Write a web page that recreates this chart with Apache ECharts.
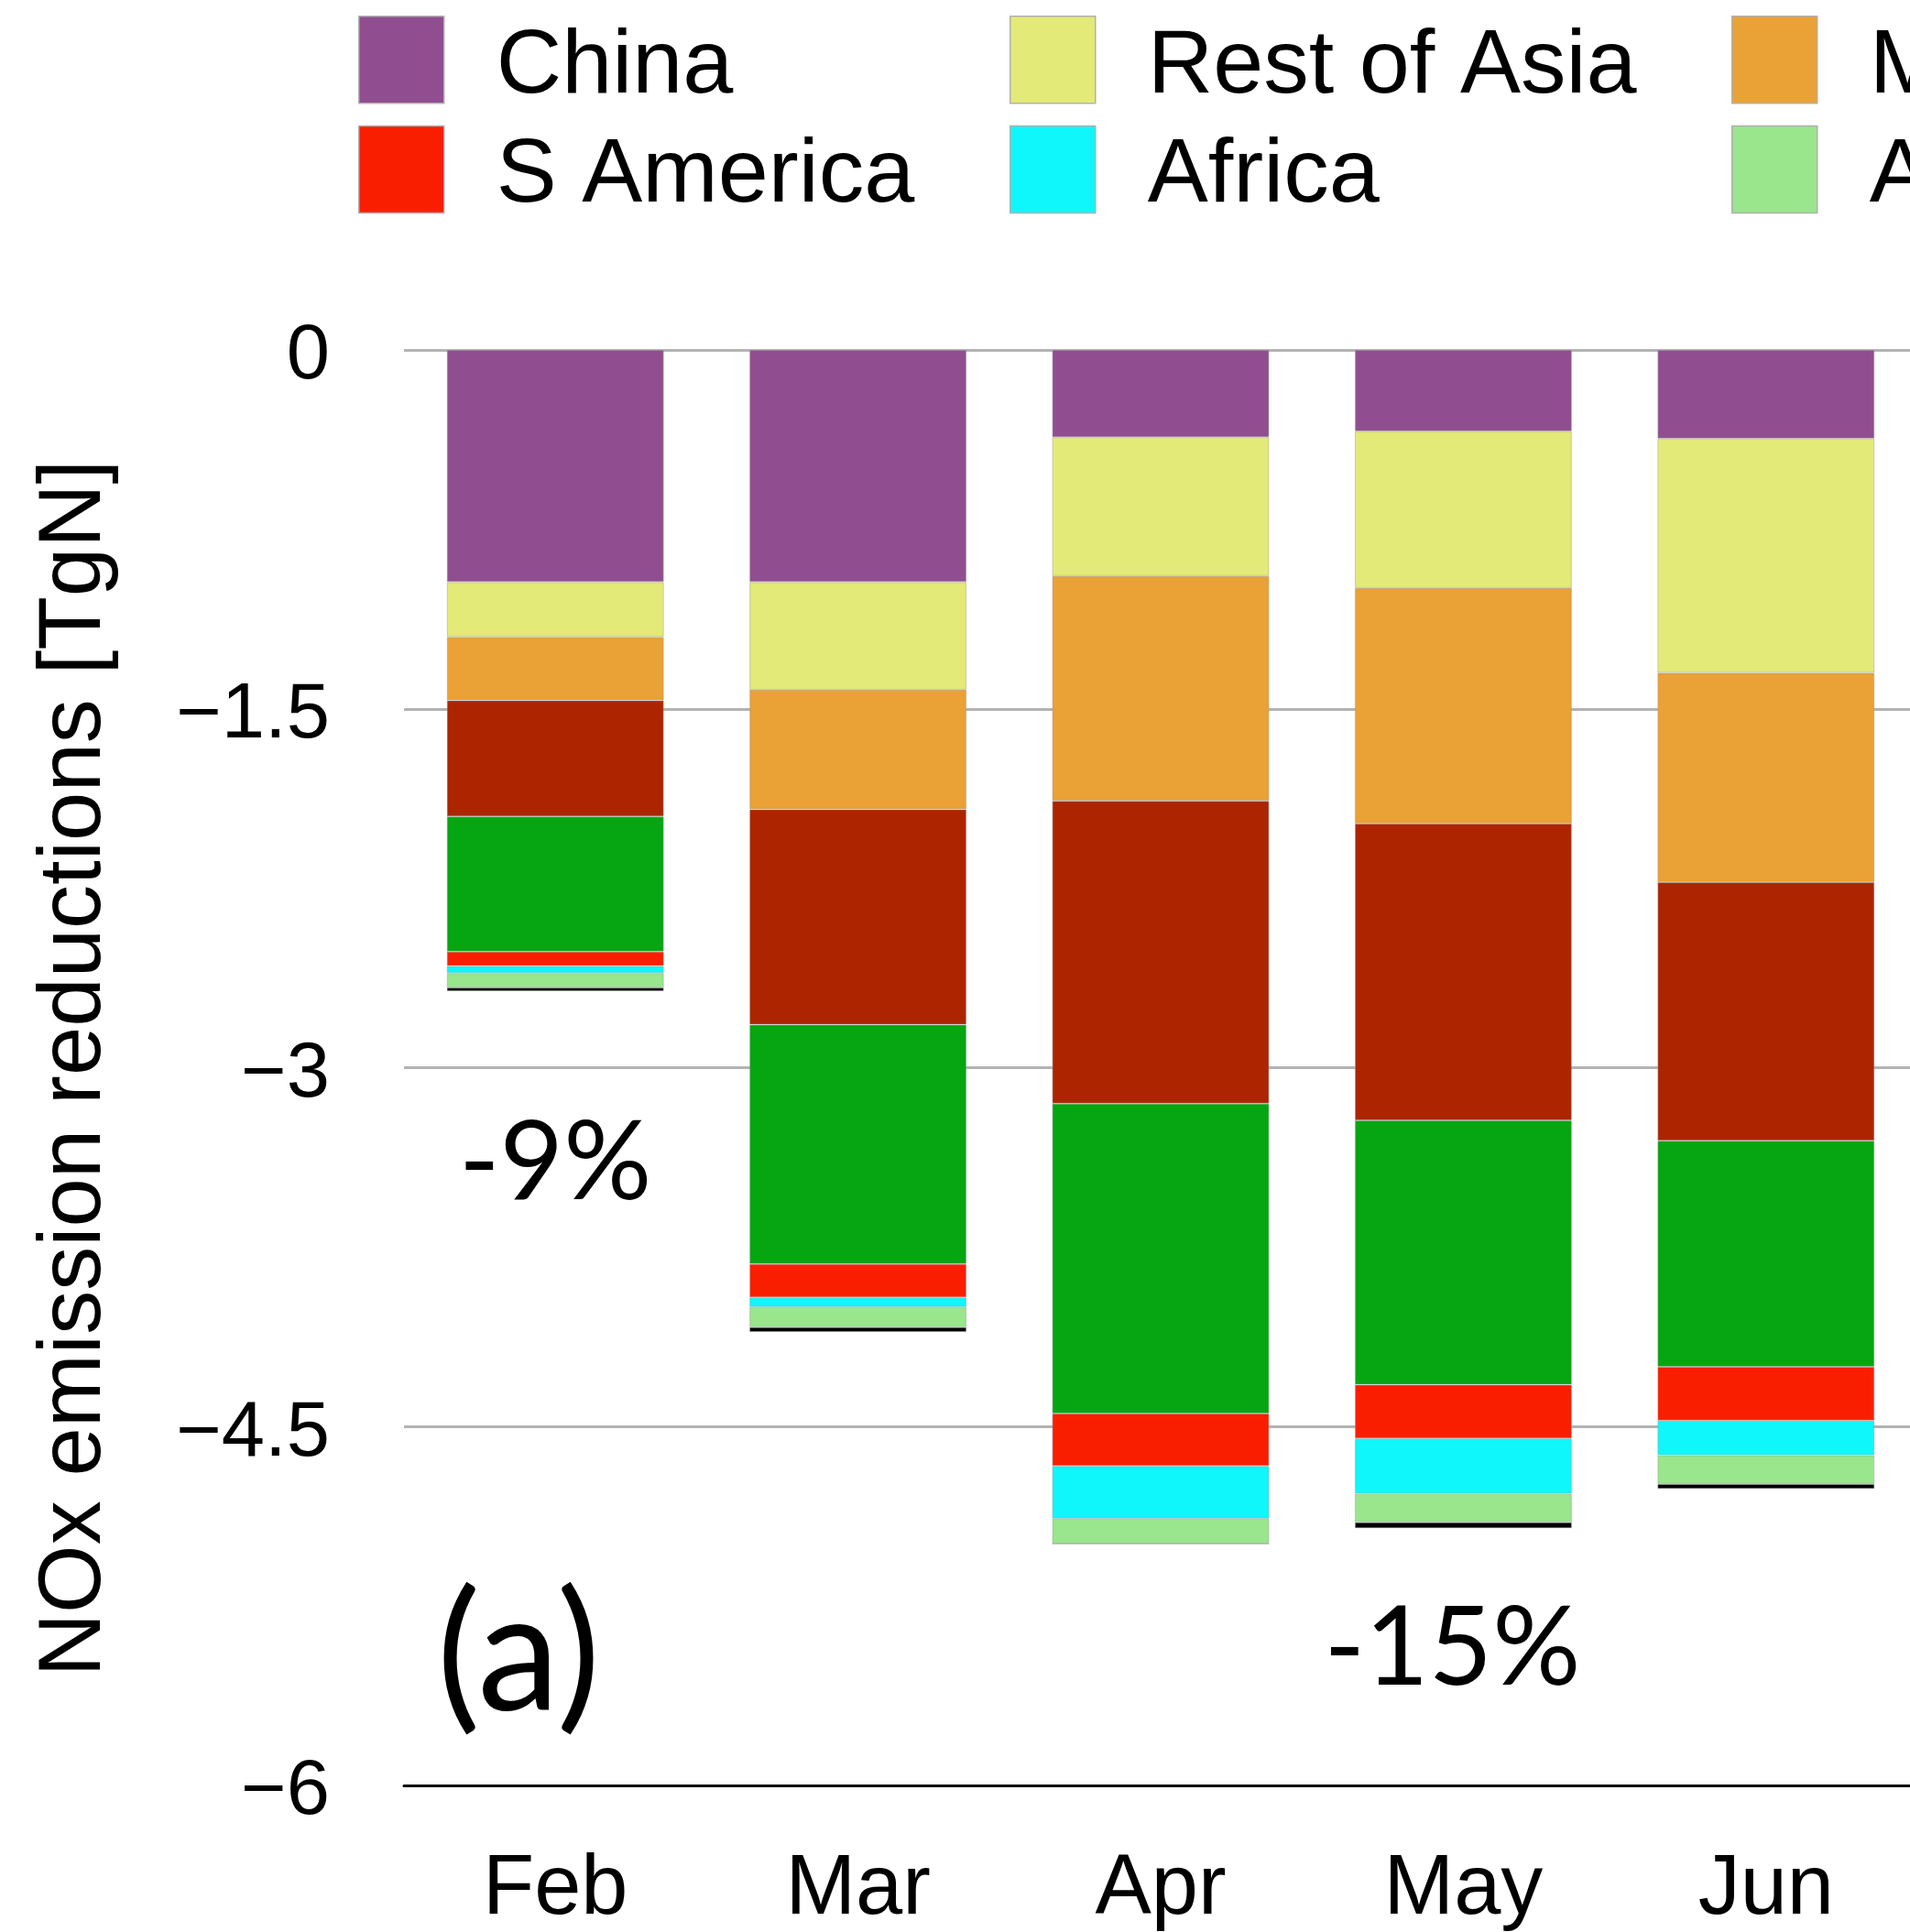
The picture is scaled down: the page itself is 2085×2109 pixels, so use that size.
<!DOCTYPE html>
<html>
<head>
<meta charset="utf-8">
<script src="https://cdn.jsdelivr.net/npm/echarts@6/dist/echarts.min.js"></script>
<style>
  html, body { margin: 0; padding: 0; background: #ffffff; }
  #chart { width: 2085px; height: 2109px; }
</style>
</head>
<body>
<div id="chart"></div>
<script>
// Monthly NOx emission reductions by region [TgN]
const months = ['Feb', 'Mar', 'Apr', 'May', 'Jun'];
const china      = [-0.97, -0.97, -0.365, -0.34, -0.37];
const restOfAsia = [-0.23, -0.45, -0.58, -0.655, -0.98];
const middleEast = [-0.265, -0.50, -0.94, -0.985, -0.875];
const europe     = [-0.485, -0.90, -1.265, -1.24, -1.08];
const nAmerica   = [-0.565, -1.00, -1.295, -1.105, -0.945];
const sAmerica   = [-0.06, -0.14, -0.22, -0.225, -0.225];
const africa     = [-0.03, -0.04, -0.22, -0.23, -0.145];
const australia  = [-0.06, -0.085, -0.105, -0.12, -0.12];
const other      = [-0.015, -0.02, 0, -0.025, -0.02];

const yTicks = [0, -1.5, -3, -4.5, -6];

// Relative change annotations
const notes = [
  { text: '-9%', month: 'Feb', value: -3.4 },
  { text: '-15%', month: 'May', value: -5.43 }
];
// small horizontal nudges for the annotation text, in pixels
const noteNudge = { '-9%': 0, '-15%': -12 };

const regions = [
  { name: 'China',       data: china,      color: '#904e91' },
  { name: 'Rest of Asia',data: restOfAsia, color: '#e3ea78' },
  { name: 'Middle East', data: middleEast, color: '#eaa135' },
  { name: 'Europe',      data: europe,     color: '#ad2400' },
  { name: 'N America',   data: nAmerica,   color: '#05a611' },
  { name: 'S America',   data: sAmerica,   color: '#fa1e00' },
  { name: 'Africa',      data: africa,     color: '#0ff7fa' },
  { name: 'Australia',   data: australia,  color: '#99e68d' },
  { name: 'Other',       data: other,      color: '#000000' }
];

const sans = 'Liberation Sans, Arial, Helvetica, sans-serif';

function legendColumn(names, left) {
  return {
    orient: 'vertical',
    left: left,
    top: 17,
    padding: 0,
    itemWidth: 93,
    itemHeight: 95,
    itemGap: 14,
    icon: 'rect',
    selectedMode: false,
    data: names,
    itemStyle: { borderColor: '#b0b0b0', borderWidth: 1.5 },
    formatter: name => '{t|' + name + '}',
    textStyle: {
      color: '#000',
      rich: {
        t: { fontFamily: sans, fontSize: 99, color: '#000', padding: [16, 0, 0, 52] }
      }
    }
  };
}

const chart = echarts.init(document.getElementById('chart'), null, { renderer: 'canvas' });

chart.setOption({
  animation: false,
  backgroundColor: '#ffffff',
  legend: [
    legendColumn(['China', 'S America'], 391),
    legendColumn(['Rest of Asia', 'Africa'], 1102),
    legendColumn(['Middle East', 'Australia'], 1890)
  ],
  grid: {
    left: 441, width: 1652, top: 382, bottom: 160,
    containLabel: false,
    outerBoundsMode: 'none'
  },
  xAxis: {
    type: 'category',
    data: months,
    position: 'bottom',
    axisLine: { show: true, onZero: false, lineStyle: { color: '#000', width: 3 } },
    axisTick: { show: false },
    axisLabel: { fontFamily: sans, fontSize: 92, color: '#000', margin: 69 },
    splitLine: { show: false }
  },
  yAxis: {
    type: 'value',
    min: yTicks[yTicks.length - 1],
    max: yTicks[0],
    interval: 1.5,
    axisLine: { show: false },
    axisTick: { show: false },
    axisLabel: {
      color: '#000',
      margin: 81,
      formatter: v => '{v|' + String(v).replace('-', '\u2212') + '}',
      rich: {
        v: { fontFamily: sans, fontSize: 85, color: '#000', padding: [16, 0, 0, 0] }
      }
    },
    splitLine: { show: true, lineStyle: { color: '#b3b3b3', width: 3 } }
  },
  series: regions.map(r => ({
    name: r.name,
    type: 'bar',
    stack: 'total',
    barWidth: '71.7%',
    data: r.data,
    itemStyle: { color: r.color, borderColor: 'rgba(150,150,150,0.45)', borderWidth: 1 },
    emphasis: { disabled: true }
  }))
});

// Axis title, panel label and percentage annotations
const graphics = [
  {
    type: 'text',
    x: 83, y: 1166,
    rotation: Math.PI / 2,
    style: {
      text: 'NOx emission reductions [TgN]',
      font: '96px ' + sans,
      fill: '#000',
      align: 'center',
      verticalAlign: 'middle'
    }
  },
  {
    type: 'text',
    x: 566, y: 1809,
    style: {
      text: '(a)',
      font: '180px Lato, sans-serif',
      fill: '#000',
      align: 'center',
      verticalAlign: 'middle'
    }
  }
];
notes.forEach(n => {
  const p = chart.convertToPixel({ gridIndex: 0 }, [n.month, n.value]);
  graphics.push({
    type: 'text',
    x: p[0] + (noteNudge[n.text] || 0), y: p[1],
    style: {
      text: n.text,
      font: '120px Lato, sans-serif',
      fill: '#000',
      align: 'center',
      verticalAlign: 'middle'
    }
  });
});
chart.setOption({ graphic: graphics });
</script>
</body>
</html>
